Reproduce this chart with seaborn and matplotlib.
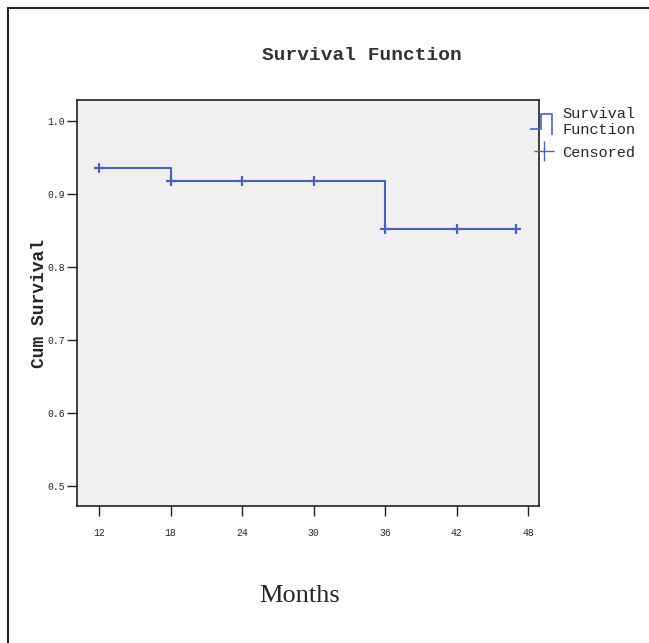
import numpy as np
import pandas as pd
import matplotlib
matplotlib.use("Agg")
import matplotlib.pyplot as plt
from matplotlib.lines import Line2D
from matplotlib.path import Path
import seaborn as sns

# Data
months = [12, 18, 24, 30, 36, 42, 47]
survival = [0.936, 0.918, 0.918, 0.918, 0.852, 0.852, 0.852]
censored_months = [12, 18, 24, 30, 36, 42, 47]
censored_surv = [0.936, 0.918, 0.918, 0.918, 0.852, 0.852, 0.852]
x_ticks = [12, 18, 24, 30, 36, 42, 48]
y_ticks = [0.5, 0.6, 0.7, 0.8, 0.9, 1.0]

line_color = "#4b62b3"
mono = "Liberation Mono"

sns.set_style("white")

fig = plt.figure(figsize=(6.49, 6.43), dpi=100)
ax = fig.add_axes([77 / 649, 1 - 506 / 643, 462 / 649, 406 / 643])
ax.set_facecolor("#f0f0f0")

df = pd.DataFrame({"months": months, "survival": survival})
cens = pd.DataFrame({"months": censored_months, "survival": censored_surv})

sns.lineplot(data=df, x="months", y="survival", drawstyle="steps-post",
             color=line_color, linewidth=1.5, ax=ax)
sns.scatterplot(data=cens, x="months", y="survival", marker="+", s=45,
                color=line_color, linewidth=1.6, ax=ax, zorder=3)

ax.set_xlim(10.15, 48.9)
ax.set_ylim(0.4725, 1.029)
ax.set_xticks(x_ticks)
ax.set_yticks(y_ticks)
ax.set_xticklabels([str(t) for t in x_ticks], fontfamily=mono, fontsize=7)
ax.set_yticklabels([f"{t:.1f}" for t in y_ticks], fontfamily=mono, fontsize=7)
ax.tick_params(axis="both", direction="out", length=7, width=1, color="#222222",
               bottom=True, left=True)
ax.tick_params(axis="x", pad=9)
ax.tick_params(axis="y", pad=2)
ax.set_xlabel("")
ax.set_ylabel("Cum Survival", fontfamily=mono, fontsize=13, fontweight="bold",
              labelpad=-1)
for sp in ax.spines.values():
    sp.set_color("#222222")
    sp.set_linewidth(1.2)

# Title and x label as figure text
fig.text(362 / 649, 1 - 56 / 643, "Survival Function", fontfamily=mono,
         fontsize=14, fontweight="bold", ha="center", va="center", color="#333333")
fig.text(300 / 649, 1 - 596 / 643, "Months", fontfamily="Liberation Serif",
         fontsize=19, ha="center", va="center")

# Legend with a step-shaped icon
step_path = Path([(-1.0, -0.5), (-0.2, -0.5), (-0.2, 0.6), (0.6, 0.6), (0.6, -0.9)],
                 [Path.MOVETO, Path.LINETO, Path.LINETO, Path.LINETO, Path.LINETO])
handles = [
    Line2D([], [], linestyle="none", marker=step_path, markersize=20,
           markerfacecolor="none", markeredgecolor=line_color, markeredgewidth=1.2),
    Line2D([], [], linestyle="none", marker="+", markersize=14,
           markeredgecolor=line_color, markeredgewidth=1.0),
]
fig.legend(handles, ["Survival\nFunction", "Censored"], loc="upper left",
           bbox_to_anchor=(532 / 649, 1 - 107 / 643), frameon=False,
           prop={"family": mono, "size": 11}, handlelength=1.6,
           handletextpad=0.4, labelspacing=0.55, borderaxespad=0, borderpad=0)

# Figure border (left and top)
fig.add_artist(Line2D([7.5 / 649, 7.5 / 649], [0, 1 - 7.5 / 643], transform=fig.transFigure,
                      color="#222222", linewidth=1.5))
fig.add_artist(Line2D([7.5 / 649, 1], [1 - 7.5 / 643, 1 - 7.5 / 643], transform=fig.transFigure,
                      color="#222222", linewidth=1.5))

fig.savefig("out.png", dpi=100, facecolor="white")
